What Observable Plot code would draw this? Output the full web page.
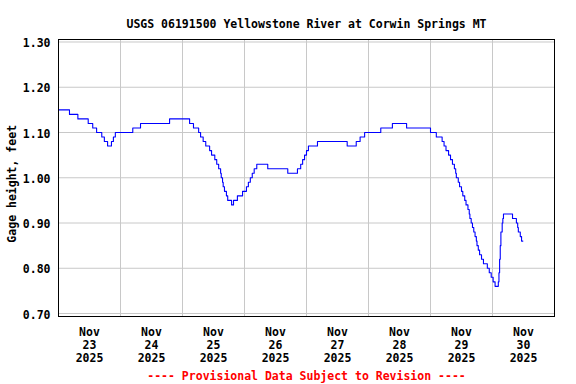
<!DOCTYPE html>
<html>
<head>
<meta charset="utf-8">
<script src="https://cdn.jsdelivr.net/npm/d3@7"></script>
<script src="https://cdn.jsdelivr.net/npm/@observablehq/plot@0.6"></script>
<style>
html, body { margin: 0; padding: 0; background: #fff; }
#chart svg { display: block; }
</style>
</head>
<body>
<div id="chart"></div>
<script>
// ---- data (15-minute gage readings, change points) ----
const times = [
  "2025-11-23T00:00","2025-11-23T04:15","2025-11-23T07:30","2025-11-23T11:30","2025-11-23T13:15",
  "2025-11-23T14:45","2025-11-23T16:45","2025-11-23T17:45","2025-11-23T19:00","2025-11-23T20:30",
  "2025-11-23T21:15","2025-11-23T22:00","2025-11-24T04:45","2025-11-24T07:45","2025-11-24T19:00",
  "2025-11-25T02:45","2025-11-25T04:15","2025-11-25T06:15","2025-11-25T07:00","2025-11-25T08:00",
  "2025-11-25T09:00","2025-11-25T10:30","2025-11-25T11:15","2025-11-25T12:30","2025-11-25T13:15",
  "2025-11-25T14:00","2025-11-25T14:45","2025-11-25T15:00","2025-11-25T15:30","2025-11-25T15:45",
  "2025-11-25T16:15","2025-11-25T17:00","2025-11-25T17:30","2025-11-25T19:00","2025-11-25T19:45",
  "2025-11-25T21:15","2025-11-25T23:15","2025-11-26T00:45","2025-11-26T01:30","2025-11-26T02:15",
  "2025-11-26T03:00","2025-11-26T03:45","2025-11-26T04:45","2025-11-26T09:00","2025-11-26T16:45",
  "2025-11-26T20:30","2025-11-26T21:45","2025-11-26T22:30","2025-11-26T23:15","2025-11-27T00:00",
  "2025-11-27T00:45","2025-11-27T04:15","2025-11-27T15:45","2025-11-27T19:15","2025-11-27T20:45",
  "2025-11-27T22:30","2025-11-28T04:45","2025-11-28T09:15","2025-11-28T14:45","2025-11-29T00:00",
  "2025-11-29T02:15","2025-11-29T04:30","2025-11-29T05:15","2025-11-29T06:00","2025-11-29T07:00",
  "2025-11-29T07:45","2025-11-29T08:30","2025-11-29T09:15","2025-11-29T09:45","2025-11-29T10:00",
  "2025-11-29T10:45","2025-11-29T11:15","2025-11-29T12:00","2025-11-29T12:30","2025-11-29T13:15",
  "2025-11-29T13:45","2025-11-29T14:30","2025-11-29T15:00","2025-11-29T15:15","2025-11-29T15:45",
  "2025-11-29T16:15","2025-11-29T16:45","2025-11-29T17:15","2025-11-29T17:45","2025-11-29T18:00",
  "2025-11-29T18:30","2025-11-29T19:00","2025-11-29T19:45","2025-11-29T20:30","2025-11-29T22:00",
  "2025-11-29T22:45","2025-11-29T23:30","2025-11-30T00:15","2025-11-30T01:00","2025-11-30T02:15",
  "2025-11-30T02:30","2025-11-30T02:45","2025-11-30T03:00","2025-11-30T03:15","2025-11-30T03:45",
  "2025-11-30T04:00","2025-11-30T04:15","2025-11-30T07:45","2025-11-30T09:15","2025-11-30T09:45",
  "2025-11-30T10:00","2025-11-30T10:45","2025-11-30T11:15","2025-11-30T11:45"
];
const gageHeight = [
  1.15,1.14,1.13,1.12,1.11,
  1.10,1.09,1.08,1.07,1.08,
  1.09,1.10,1.11,1.12,1.13,
  1.12,1.11,1.10,1.09,1.08,
  1.07,1.06,1.05,1.04,1.03,
  1.02,1.01,1.00,0.99,0.98,
  0.97,0.96,0.95,0.94,0.95,
  0.96,0.97,0.98,0.99,1.00,
  1.01,1.02,1.03,1.02,1.01,
  1.02,1.03,1.04,1.05,1.06,
  1.07,1.08,1.07,1.08,1.09,
  1.10,1.11,1.12,1.11,1.10,
  1.09,1.08,1.07,1.06,1.05,
  1.04,1.03,1.02,1.01,1.00,
  0.99,0.98,0.97,0.96,0.95,
  0.94,0.93,0.92,0.91,0.90,
  0.89,0.88,0.87,0.86,0.85,
  0.84,0.83,0.82,0.81,0.80,
  0.79,0.78,0.77,0.76,0.77,
  0.79,0.82,0.85,0.88,0.90,
  0.91,0.92,0.91,0.90,0.89,
  0.88,0.87,0.86,0.86
];
const yTicks = [0.70, 0.80, 0.90, 1.00, 1.10, 1.20, 1.30];
const dayBoundaries = ["2025-11-24T00:00","2025-11-25T00:00","2025-11-26T00:00","2025-11-27T00:00",
                       "2025-11-28T00:00","2025-11-29T00:00","2025-11-30T00:00"];
const dayLabelTimes = ["2025-11-23T12:00","2025-11-24T12:00","2025-11-25T12:00","2025-11-26T12:00",
                       "2025-11-27T12:00","2025-11-28T12:00","2025-11-29T12:00","2025-11-30T12:00"];
const dayLabels = ["Nov\n23\n2025","Nov\n24\n2025","Nov\n25\n2025","Nov\n26\n2025",
                   "Nov\n27\n2025","Nov\n28\n2025","Nov\n29\n2025","Nov\n30\n2025"];
const xDomain = ["2025-11-23T00:00", "2025-12-01T00:00"];
const titleText = "USGS 06191500 Yellowstone River at Corwin Springs MT";
const yLabelText = "Gage height, feet";
const captionText = "---- Provisional Data Subject to Revision ----";

const parse = s => new Date(s);
const data = times.map((t, i) => ({t: parse(t), v: gageHeight[i]}));

const font = {fontFamily: "'DejaVu Sans Mono', 'Liberation Mono', monospace", fontSize: 11.5, fontWeight: "bold"};

const chart = Plot.plot({
  width: 576,
  height: 384,
  marginTop: 39,
  marginBottom: 68,
  marginLeft: 58,
  marginRight: 22,
  style: {background: "white", color: "black", fontFamily: font.fontFamily, fontSize: "11.5px", fontWeight: "bold"},
  x: {type: "time", domain: xDomain.map(parse), axis: null},
  y: {domain: [0.6934, 1.3055], label: null},
  marks: [
    Plot.gridY(yTicks, {stroke: "#c8c8c8", strokeOpacity: 1}),
    Plot.gridX(dayBoundaries.map(parse), {stroke: "#c8c8c8", strokeOpacity: 1}),
    Plot.axisY(yTicks, {tickSize: 0, tickPadding: 8, tickFormat: d => d.toFixed(2), label: null, dy: 1.5, ...font, fill: "black"}),
    Plot.text(dayLabelTimes.map(parse), {x: d => d, text: (d, i) => dayLabels[i], frameAnchor: "bottom",
      lineAnchor: "top", dy: 10, lineHeight: 1.13, ...font, fill: "black"}),
    Plot.lineY(data, {x: "t", y: "v", curve: "step-after", stroke: "#0000ff", strokeWidth: 1.1}),
    Plot.frame({stroke: "black", strokeWidth: 1}),
    Plot.text([titleText], {frameAnchor: "top", dy: -20, ...font, fill: "black"}),
    Plot.text([yLabelText], {frameAnchor: "left", textAnchor: "middle", rotate: -90, dx: -46, dy: 5.8, ...font, fill: "black"}),
    Plot.text([captionText], {frameAnchor: "bottom", dy: 63, ...font, fill: "#ff0000"})
  ]
});
document.getElementById("chart").appendChild(chart);
</script>
</body>
</html>
